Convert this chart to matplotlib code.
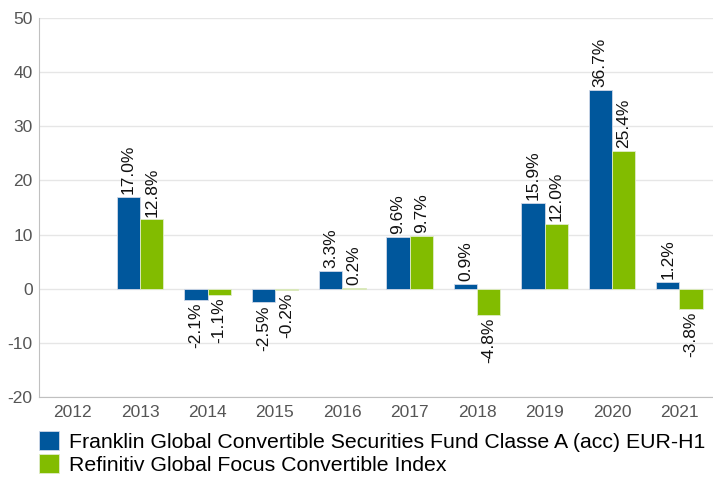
import numpy as np
import matplotlib.pyplot as plt

years = ["2012", "2013", "2014", "2015", "2016", "2017", "2018", "2019", "2020", "2021"]
fund = [np.nan, 17.0, -2.1, -2.5, 3.3, 9.6, 0.9, 15.9, 36.7, 1.2]
index = [np.nan, 12.8, -1.1, -0.2, 0.2, 9.7, -4.8, 12.0, 25.4, -3.8]

fund_name = "Franklin Global Convertible Securities Fund Classe A (acc) EUR-H1"
index_name = "Refinitiv Global Focus Convertible Index"

blue = "#00579c"
green = "#82bc00"

plt.rcParams["font.family"] = ["Liberation Sans", "DejaVu Sans"]
plt.rcParams["axes.unicode_minus"] = False

fig = plt.figure(figsize=(7.13, 4.82), dpi=100)
ax = fig.add_axes([39 / 713, 1 - 397 / 482, 674 / 713, 379 / 482])

x = np.arange(len(years))
w = 0.345
b1 = ax.bar(x - w / 2, fund, w, color=blue, edgecolor="#d0d8e8", linewidth=0.6, label=fund_name, zorder=3)
b2 = ax.bar(x + w / 2, index, w, color=green, edgecolor="#e0ecc8", linewidth=0.6, label=index_name, zorder=3)

for bars, vals in ((b1, fund), (b2, index)):
    for rect, v in zip(bars, vals):
        if np.isnan(v):
            continue
        cx = rect.get_x() + rect.get_width() / 2
        if v >= 0:
            ax.annotate(f"{v:.1f}%", (cx, v), xytext=(0, 2), textcoords="offset points",
                        rotation=90, ha="center", va="bottom", fontsize=12.5, color="#111111", zorder=4)
        else:
            ax.annotate(f"{v:.1f}%", (cx, v), xytext=(0, -2), textcoords="offset points",
                        rotation=90, ha="center", va="top", fontsize=12.5, color="#111111", zorder=4)

ax.set_xlim(-0.5, len(years) - 0.5)
ax.set_ylim(-20, 50)
ax.set_yticks(range(-20, 51, 10))
ax.set_xticks(x)
ax.set_xticklabels(years)
ax.grid(axis="y", color="#e6e6e6", linewidth=1, zorder=0)
ax.tick_params(axis="both", length=0, labelsize=12.5, colors="#555555", pad=6)
ax.tick_params(axis="y", pad=4.5)
for s in ("top", "right"):
    ax.spines[s].set_visible(False)
for s in ("left", "bottom"):
    ax.spines[s].set_color("#c0c0c0")

fig.legend(handles=[b1, b2], loc="upper left", bbox_to_anchor=(39 / 713, 1 - 431 / 482),
           frameon=False, fontsize=15.3, handlelength=0.95, handleheight=1.0,
           handletextpad=0.45, labelspacing=0.1, borderpad=0, borderaxespad=0)

fig.savefig("out.png", dpi=100)
